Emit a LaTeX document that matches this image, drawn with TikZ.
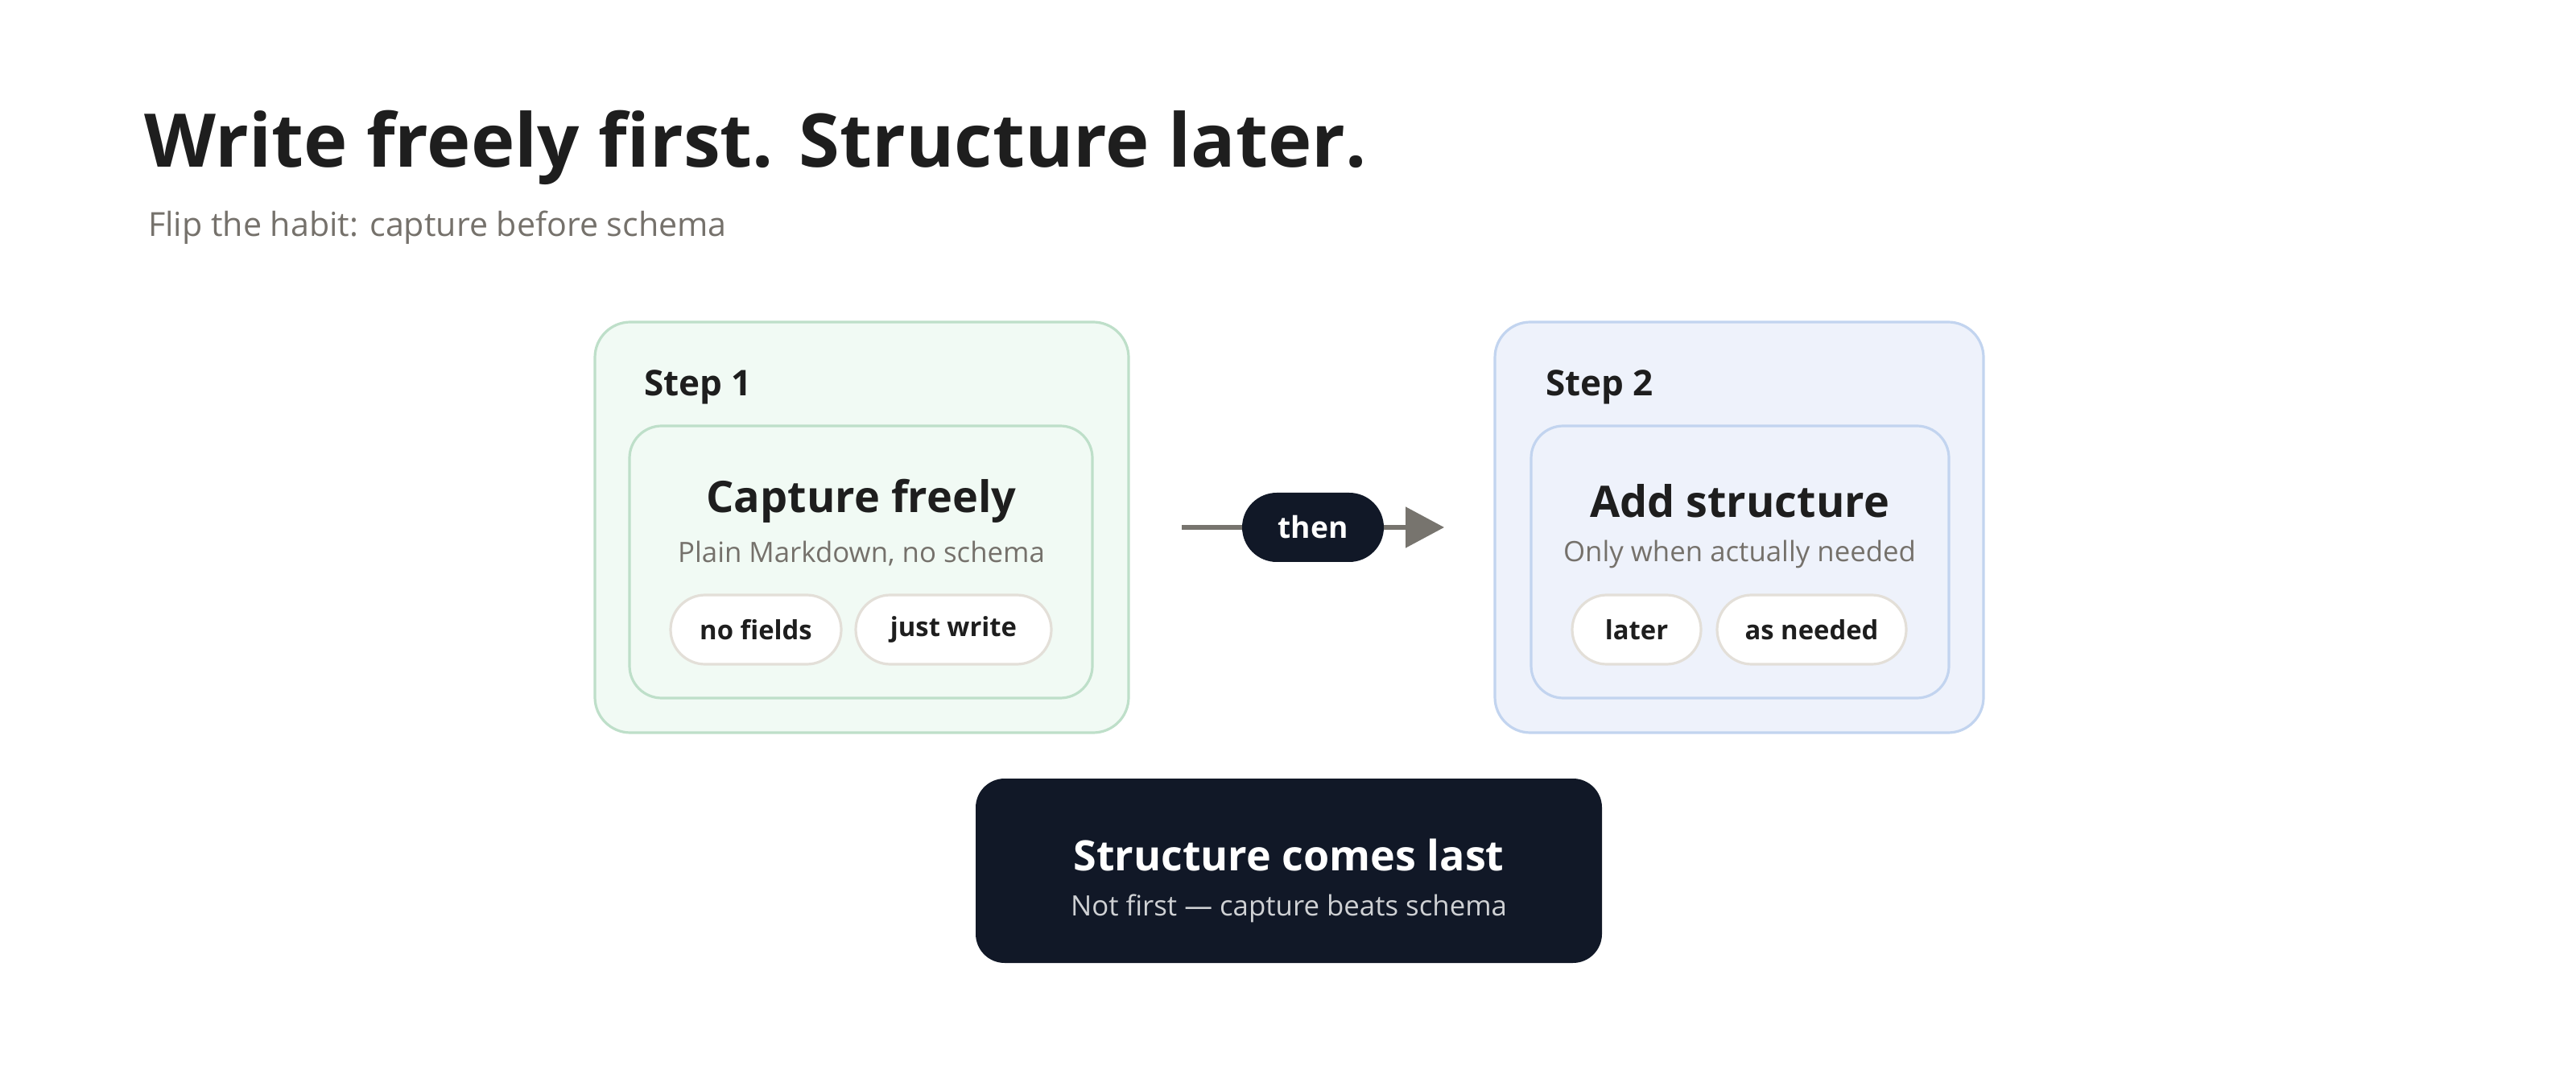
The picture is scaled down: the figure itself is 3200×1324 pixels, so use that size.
\documentclass[tikz,border=0pt]{standalone}
\usepackage{fontspec}
\setmainfont{Open Sans}
\usetikzlibrary{positioning,arrows.meta}
\definecolor{ink}{HTML}{1E1E1E}
\definecolor{mute}{HTML}{75716B}
\definecolor{navy}{HTML}{111827}
\definecolor{greenfill}{HTML}{F1FAF4}
\definecolor{greenline}{HTML}{BEDFC9}
\definecolor{bluefill}{HTML}{EEF2FB}
\definecolor{blueline}{HTML}{C2D4EF}
\definecolor{pillline}{HTML}{E3DFD8}
\definecolor{arrowgray}{HTML}{77746E}
\begin{document}
\begin{tikzpicture}[x=0.25pt, y=-0.25pt,
stepbox/.style = {rectangle, rounded corners=11pt, line width=0.8pt, minimum height=127.5pt},
innerbox/.style = {rectangle, rounded corners=10pt, line width=0.8pt, minimum height=84.5pt},
pill/.style = {rectangle, rounded corners=10.75pt, draw=pillline, fill=white, line width=0.8pt,
  minimum height=21.5pt, inner sep=0pt, font=\fontsize{8.2}{10}\selectfont\bfseries, text=ink},
steplabel/.style = {anchor=base west, font=\fontsize{11}{13}\selectfont\bfseries, text=ink},
headline/.style = {font=\fontsize{13.5}{16}\selectfont\bfseries, text=ink},
subline/.style = {font=\fontsize{8.7}{11}\selectfont, text=mute}]
\useasboundingbox (0,0) rectangle (3200,1324);

% title
\node[anchor=base west, font=\fontsize{23}{27}\selectfont\bfseries, text=ink] (title) at (165,208) {Write freely first. Structure later.};
\node[anchor=base west, font=\fontsize{10.3}{12}\selectfont, text=mute] (subtitle) at (170,294) {Flip the habit: capture before schema};

% step 1
\node[stepbox, draw=greenline, fill=greenfill, minimum width=165.75pt] (step1) at (1070.5,655) {};
\node[innerbox, draw=greenline, fill=greenfill, minimum width=143.75pt] (inner1) at (1069.5,698) {};
\node[steplabel] (lab1) at (786,492) {Step 1};
\node[headline] (head1) at (1070,622) {Capture freely};
\node[subline] (sub1) at (1070,688) {Plain Markdown, no schema};
\node[pill, minimum width=53pt] (p1) at (939,782) {no fields};
\node[pill, minimum width=60.75pt] (p2) at (1184.5,782) {just write};

% step 2
\node[stepbox, draw=blueline, fill=bluefill, minimum width=151.75pt] (step2) at (2160.5,655) {};
\node[innerbox, draw=blueline, fill=bluefill, minimum width=129.75pt] (inner2) at (2161.5,698) {};
\node[steplabel] (lab2) at (1906,492) {Step 2};
\node[headline] (head2) at (2161,622) {Add structure};
\node[subline] (sub2) at (2161,688) {Only when actually needed};
\node[pill, minimum width=40pt] (p3) at (2033,782) {later};
\node[pill, minimum width=58.75pt] (p4) at (2250.5,782) {as needed};

% connector
\coordinate (arrS) at (1468,655);
\coordinate (arrE) at (1794,655);
\draw[arrowgray, line width=1.3pt, -{Triangle[length=12pt,width=12.5pt]}] (arrS) -- (arrE);
\node[rectangle, rounded corners=10.75pt, fill=navy, minimum width=44pt, minimum height=21.5pt,
  text=white, font=\fontsize{9.3}{11}\selectfont\bfseries] (then) at (1631,655) {then};

% summary
\node[rectangle, rounded corners=9pt, fill=navy, minimum width=194.5pt, minimum height=57.25pt] (last) at (1601,1081.5) {};
\node[font=\fontsize{13}{15}\selectfont\bfseries, text=white] (lasthead) at (1601,1062) {Structure comes last};
\node[font=\fontsize{8.7}{11}\selectfont, text=white!80!navy] (lastsub) at (1601,1128) {Not first — capture beats schema};
\end{tikzpicture}
\end{document}
